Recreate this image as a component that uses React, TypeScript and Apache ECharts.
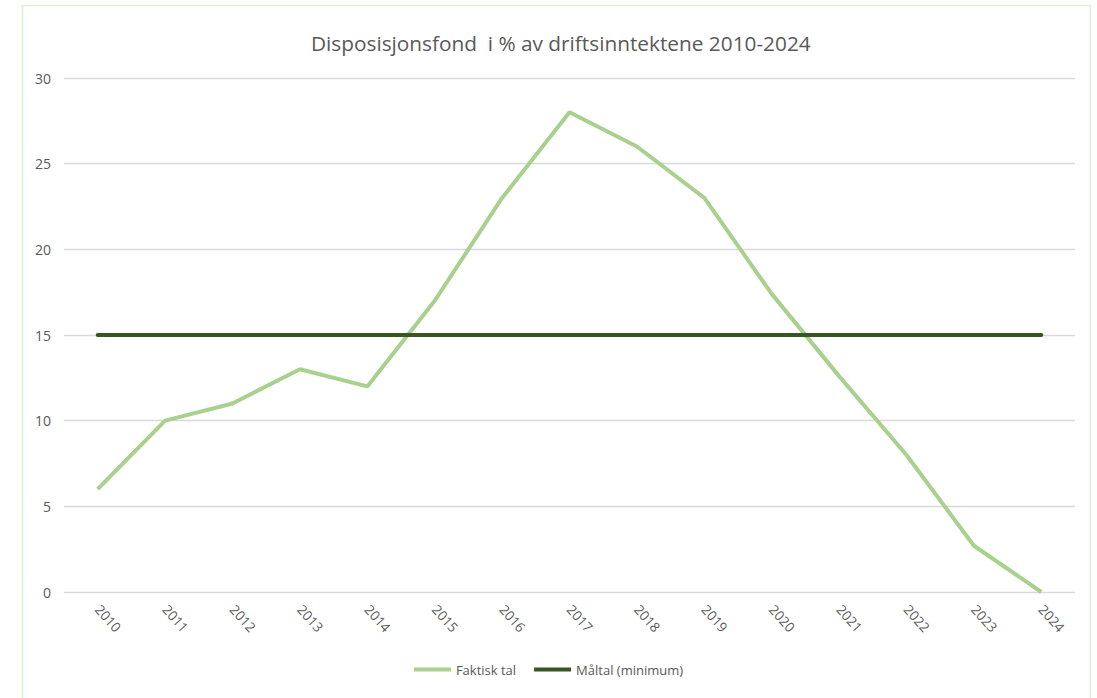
import React, { useEffect, useRef } from "react";
import * as echarts from "echarts";

const years = ["2010","2011","2012","2013","2014","2015","2016","2017","2018","2019","2020","2021","2022","2023","2024"];
const faktisk = [6, 10, 11, 13, 12, 17, 23, 28, 26, 23, 17.4, 12.6, 8, 2.7, 0];
const maltal = [15, 15, 15, 15, 15, 15, 15, 15, 15, 15, 15, 15, 15, 15, 15];

const FONT = "'Open Sans', sans-serif";

export default function App() {
  const ref = useRef<HTMLDivElement>(null);
  useEffect(() => {
    if (!ref.current) return;
    const chart = echarts.init(ref.current, null, { renderer: "svg" });
    chart.setOption({
      animation: false,
      backgroundColor: "#ffffff",
      title: {
        text: "Disposisjonsfond  i % av driftsinntektene 2010-2024",
        left: 306,
        top: 27,
        textStyle: { fontFamily: FONT, fontSize: 20.8, fontWeight: "normal", color: "#595959" },
      },
      graphic: [
        {
          type: "rect",
          shape: { x: 22.5, y: 5.5, width: 1068, height: 720 },
          style: { fill: "none", stroke: "#DCEFD0", lineWidth: 1.5 },
          silent: true,
        },
      ],
      legend: {
        bottom: 17,
        left: "center",
        itemWidth: 37,
        itemHeight: 4,
        itemGap: 18,
        icon: "rect",
        textStyle: { fontFamily: FONT, fontSize: 13, color: "#595959" },
        data: ["Faktisk tal", "Måltal (minimum)"],
      },
      grid: { left: 64, right: 22, top: 78, bottom: 106 },
      xAxis: {
        type: "category",
        data: years,
        boundaryGap: true,
        axisLine: { show: false },
        axisTick: { show: false },
        axisLabel: { rotate: -48, color: "#595959", fontFamily: FONT, fontSize: 13.5, margin: 15 },
      },
      yAxis: {
        type: "value",
        min: 0,
        max: 30,
        interval: 5,
        axisLine: { show: false },
        axisTick: { show: false },
        axisLabel: { color: "#595959", fontFamily: FONT, fontSize: 14, margin: 13 },
        splitLine: { lineStyle: { color: "#D9D9D9", width: 1.3 } },
      },
      series: [
        {
          name: "Faktisk tal",
          type: "line",
          data: faktisk,
          symbol: "none",
          lineStyle: { color: "#A9D18E", width: 4 },
          itemStyle: { color: "#A9D18E" },
        },
        {
          name: "Måltal (minimum)",
          type: "line",
          data: maltal,
          symbol: "none",
          lineStyle: { color: "#375623", width: 4, cap: "round" },
          itemStyle: { color: "#375623" },
        },
      ],
    });
    return () => chart.dispose();
  }, []);
  return (
    <div
      ref={ref}
      style={{ position: "fixed", left: 0, top: 0, width: 1097, height: 698 }}
    />
  );
}
